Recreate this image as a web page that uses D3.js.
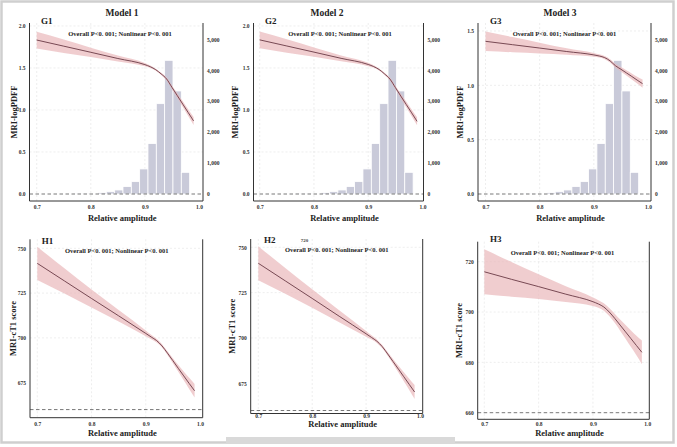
<!DOCTYPE html>
<html>
<head>
<meta charset="utf-8">
<script src="https://cdn.jsdelivr.net/npm/d3@7/dist/d3.min.js"></script>
<style>
  html, body { margin: 0; padding: 0; background: #ffffff; }
  svg { display: block; font-family: "Liberation Serif", "DejaVu Serif", serif; }
</style>
</head>
<body>
<div id="chart"></div>
<script>
// ---- data ----
const xTicks = [0.7, 0.8, 0.9, 1.0];
const curveX = [0.70, 0.75, 0.80, 0.85, 0.90, 0.91, 0.92, 0.93, 0.94, 0.95, 0.96, 0.97, 0.98, 0.99];

const g1Fit = [1.833, 1.760, 1.687, 1.613, 1.540, 1.515, 1.480, 1.430, 1.370, 1.270, 1.170, 1.070, 0.970, 0.870];
const g1Hi  = [1.933, 1.840, 1.742, 1.648, 1.560, 1.530, 1.492, 1.444, 1.388, 1.292, 1.198, 1.104, 1.010, 0.918];
const g1Lo  = [1.733, 1.680, 1.632, 1.578, 1.520, 1.500, 1.468, 1.416, 1.352, 1.248, 1.142, 1.036, 0.930, 0.822];

const g2Fit = [1.835, 1.762, 1.689, 1.615, 1.542, 1.517, 1.482, 1.430, 1.368, 1.268, 1.166, 1.066, 0.966, 0.865];
const g2Hi  = [1.935, 1.842, 1.744, 1.650, 1.562, 1.532, 1.494, 1.444, 1.386, 1.290, 1.194, 1.100, 1.006, 0.913];
const g2Lo  = [1.735, 1.682, 1.634, 1.580, 1.522, 1.502, 1.470, 1.416, 1.350, 1.246, 1.138, 1.032, 0.926, 0.817];

const g3Fit = [1.405, 1.374, 1.343, 1.311, 1.280, 1.270, 1.255, 1.225, 1.180, 1.148, 1.115, 1.082, 1.048, 1.015];
const g3Hi  = [1.495, 1.444, 1.393, 1.341, 1.298, 1.285, 1.269, 1.241, 1.198, 1.168, 1.139, 1.110, 1.080, 1.053];
const g3Lo  = [1.315, 1.304, 1.293, 1.281, 1.262, 1.255, 1.241, 1.209, 1.162, 1.128, 1.091, 1.054, 1.016, 0.977];

const h1Fit = [741.6, 731.8, 722.0, 712.3, 702.5, 700.5, 698.5, 695.5, 691.5, 687.3, 683.0, 678.8, 674.6, 670.5];
const h1Hi  = [750.9, 738.8, 727.0, 715.5, 704.1, 701.7, 699.5, 696.4, 692.5, 688.7, 684.9, 681.3, 677.7, 674.3];
const h1Lo  = [732.3, 724.8, 717.0, 709.1, 700.9, 699.3, 697.5, 694.6, 690.5, 685.9, 681.1, 676.3, 671.5, 666.7];

const h2Fit = [741.2, 731.5, 721.8, 712.0, 702.3, 700.3, 698.2, 695.2, 691.2, 687.0, 682.8, 678.6, 674.4, 670.2];
const h2Hi  = [750.6, 738.6, 726.9, 715.3, 703.9, 701.5, 699.2, 696.1, 692.2, 688.4, 684.7, 681.1, 677.5, 674.0];
const h2Lo  = [731.8, 724.4, 716.7, 708.7, 700.7, 699.1, 697.2, 694.3, 690.2, 685.6, 680.9, 676.1, 671.3, 666.4];

const h3Fit = [716.0, 713.0, 710.1, 707.1, 704.1, 703.2, 702.0, 700.0, 697.5, 694.8, 692.1, 689.4, 686.7, 684.0];
const h3Hi  = [724.9, 719.9, 715.0, 710.2, 705.8, 704.7, 703.5, 701.6, 699.3, 697.0, 694.8, 692.7, 690.6, 688.7];
const h3Lo  = [707.1, 706.1, 705.2, 704.0, 702.4, 701.7, 700.5, 698.4, 695.7, 692.6, 689.4, 686.1, 682.8, 679.3];

// histogram of relative amplitude (bin start, count)
const binWidth = 0.0154;
const histStart = [0.7671, 0.7825, 0.7979, 0.8133, 0.8287, 0.8441, 0.8595, 0.8749, 0.8903, 0.9057, 0.9211, 0.9365, 0.9519, 0.9673];
const histCount = [8, 12, 25, 45, 75, 130, 240, 400, 810, 1630, 2920, 4320, 3330, 700];

const gTicks12 = [0, 0.5, 1.0, 1.5, 2.0];
const gTicks3 = [0, 0.5, 1.0, 1.5];
const countTicks = [0, 1000, 2000, 3000, 4000, 5000];
const hTicks12 = [675, 700, 725, 750];
const hTicks3 = [660, 680, 700, 720];

const modelTitles = ["Model 1", "Model 2", "Model 3"];
const statText = "Overall P<0. 001; Nonlinear P<0. 001";

// ---- layout ----
const W = 677, H = 447;
const svg = d3.select("#chart").append("svg").attr("width", W).attr("height", H);

svg.append("rect").attr("x", 1.5).attr("y", 1.5).attr("width", 672).attr("height", 441)
  .attr("fill", "#fff").attr("stroke", "#cfcfcf").attr("stroke-width", 2.5);
svg.append("rect").attr("x", 226).attr("y", 437).attr("width", 229).attr("height", 7).attr("fill", "#d9d9d9");

const panels = [
  { tag: "G1", fit: g1Fit, hi: g1Hi, lo: g1Lo, yTicks: gTicks12, yDom: [0, 2], hist: true, ref: 0,
    box: [29.5, 203, 23, 201], xr: [36.7, 199], yr: [194, 26], tickY: 209.5, labY: 221, ylx: 14,
    tagX: 41, tagY: 23.5, statX: 120, statY: 35.5, ylab: "MRI-logPDFF", fmt: d3.format(".1f") },
  { tag: "G2", fit: g2Fit, hi: g2Hi, lo: g2Lo, yTicks: gTicks12, yDom: [0, 2], hist: true, ref: 0,
    box: [253.5, 423.5, 23, 201], xr: [259.7, 422.5], yr: [194, 26], tickY: 209.5, labY: 221, ylx: 235,
    tagX: 265, tagY: 23.5, statX: 340, statY: 35.5, ylab: "MRI-logPDFF", fmt: d3.format(".1f") },
  { tag: "G3", fit: g3Fit, hi: g3Hi, lo: g3Lo, yTicks: gTicks3, yDom: [0, 1.5], hist: true, ref: 0,
    box: [478, 651, 23, 201], xr: [485.5, 648], yr: [194, 31], tickY: 209.5, labY: 221, ylx: 460,
    tagX: 490, tagY: 23.5, statX: 564.5, statY: 35.5, ylab: "MRI-logPDFF", fmt: d3.format(".1f") },
  { tag: "H1", fit: h1Fit, hi: h1Hi, lo: h1Lo, yTicks: hTicks12, yDom: [675, 750], hist: false, ref: 660,
    box: [30, 202.7, 239.3, 417.7], xr: [37.3, 200], yr: [382.7, 248.3], tickY: 426, labY: 436, ylx: 13,
    tagX: 41.7, tagY: 243.5, statX: 116.7, statY: 252.5, ylab: "MRI-cT1 score", fmt: d3.format("d") },
  { tag: "H2", fit: h2Fit, hi: h2Hi, lo: h2Lo, yTicks: hTicks12, yDom: [675, 750], hist: false, ref: 660,
    box: [250.7, 422.7, 239, 413.5], xr: [258.3, 420], yr: [383.3, 247.3], tickY: 418.5, labY: 426.5, ylx: 232,
    tagX: 264, tagY: 242.5, statX: 336.7, statY: 251.5, ylab: "MRI-cT1 score", fmt: d3.format("d") },
  { tag: "H3", fit: h3Fit, hi: h3Hi, lo: h3Lo, yTicks: hTicks3, yDom: [660, 720], hist: false, ref: 660,
    box: [477.7, 649.3, 241.7, 419.3], xr: [484.3, 647.3], yr: [412.7, 261.7], tickY: 426, labY: 436, ylx: 459,
    tagX: 490, tagY: 242, statX: 562.5, statY: 254.5, ylab: "MRI-cT1 score", fmt: d3.format("d") }
];

const modelX = [122, 327, 560];
modelTitles.forEach((t, i) => {
  svg.append("text").attr("x", modelX[i]).attr("y", 16).attr("text-anchor", "middle")
    .attr("font-size", 9.5).attr("font-weight", "bold").attr("fill", "#222").text(t);
});

panels.forEach(p => {
  const [L, R, T, B] = p.box;
  const g = svg.append("g");
  const x = d3.scaleLinear().domain([0.7, 1.0]).range(p.xr);
  const y = d3.scaleLinear().domain(p.yDom).range(p.yr);

  // grid
  g.selectAll(".vg").data(xTicks.slice(0, 3)).enter().append("line")
    .attr("x1", d => x(d)).attr("x2", d => x(d)).attr("y1", T).attr("y2", B)
    .attr("stroke", "#e3e3e3").attr("stroke-width", 0.6).attr("stroke-dasharray", "2,2");
  g.selectAll(".hg").data(p.yTicks.slice(1)).enter().append("line")
    .attr("x1", L).attr("x2", R).attr("y1", d => y(d)).attr("y2", d => y(d))
    .attr("stroke", "#e3e3e3").attr("stroke-width", 0.6).attr("stroke-dasharray", "2,2");

  // histogram on the secondary axis
  if (p.hist) {
    const yc = d3.scaleLinear().domain([0, 5000]).range([194, 39.3]);
    g.selectAll(".bar").data(histStart).enter().append("rect")
      .attr("x", d => x(d)).attr("width", x(0.7 + binWidth) - x(0.7))
      .attr("y", (d, i) => yc(histCount[i])).attr("height", (d, i) => yc(0) - yc(histCount[i]))
      .attr("fill", "#c9cad9").attr("stroke", "#ffffff").attr("stroke-width", 0.8);
    const ra = d3.axisRight(yc).tickValues(countTicks).tickSize(0).tickPadding(4).tickFormat(d3.format(","));
    const ag = g.append("g").attr("transform", `translate(${R},0)`).call(ra);
    ag.select(".domain").remove();
    ag.selectAll("text").attr("font-size", 5.5).attr("font-weight", "bold").attr("fill", "#333")
      .attr("font-family", "Liberation Serif, serif");
  }

  // reference dashed line
  g.append("line").attr("x1", L).attr("x2", R).attr("y1", y(p.ref)).attr("y2", y(p.ref))
    .attr("stroke", "#555").attr("stroke-width", 0.8).attr("stroke-dasharray", "3.5,2.5");

  // confidence band + fit
  const pts = curveX.map((v, i) => ({ x: v, f: p.fit[i], hi: p.hi[i], lo: p.lo[i] }));
  g.append("path").datum(pts)
    .attr("d", d3.area().curve(d3.curveMonotoneX).x(d => x(d.x)).y0(d => y(d.lo)).y1(d => y(d.hi)))
    .attr("fill", "#e9b8bb").attr("fill-opacity", 0.7);
  g.append("path").datum(pts)
    .attr("d", d3.line().curve(d3.curveMonotoneX).x(d => x(d.x)).y(d => y(d.f)))
    .attr("fill", "none").attr("stroke", "#6a3a45").attr("stroke-width", 0.9);

  // frame: left, right, bottom
  g.append("path").attr("d", `M${L},${T}V${B}H${R}V${T}`)
    .attr("fill", "none").attr("stroke", "#333").attr("stroke-width", 1);

  // axis labels
  const xa = d3.axisBottom(x).tickValues(xTicks).tickSize(0).tickFormat(d3.format(".1f"));
  const xg = g.append("g").attr("transform", `translate(0,${p.tickY - 4})`).call(xa);
  xg.select(".domain").remove();
  xg.selectAll("text").attr("y", 0).attr("dy", "0.7em");
  const ya = d3.axisLeft(y).tickValues(p.yTicks).tickSize(0).tickPadding(4).tickFormat(p.fmt);
  const yg = g.append("g").attr("transform", `translate(${L},0)`).call(ya);
  yg.select(".domain").remove();
  g.selectAll(".tick text").attr("font-size", 5.5).attr("font-weight", "bold").attr("fill", "#333")
    .attr("font-family", "Liberation Serif, serif");

  g.append("text").attr("x", (L + R) / 2 + 6).attr("y", p.labY).attr("text-anchor", "middle")
    .attr("font-size", 8.5).attr("font-weight", "bold").attr("fill", "#222").text("Relative amplitude");
  g.append("text").attr("transform", `translate(${p.ylx},${(T + B) / 2}) rotate(-90)`)
    .attr("text-anchor", "middle").attr("dy", "0.35em")
    .attr("font-size", 8.5).attr("font-weight", "bold").attr("fill", "#222").text(p.ylab);
  g.append("text").attr("x", p.tagX).attr("y", p.tagY)
    .attr("font-size", 9).attr("font-weight", "bold").attr("fill", "#222").text(p.tag);
  g.append("text").attr("x", p.statX).attr("y", p.statY).attr("text-anchor", "middle")
    .attr("font-size", 6.5).attr("font-weight", "bold").attr("fill", "#222").text(statText);
});

// stray label in panel H2
svg.append("text").attr("x", 304.5).attr("y", 242).attr("text-anchor", "middle")
  .attr("font-size", 5).attr("font-weight", "bold").attr("fill", "#444").text("720");
</script>
</body>
</html>
